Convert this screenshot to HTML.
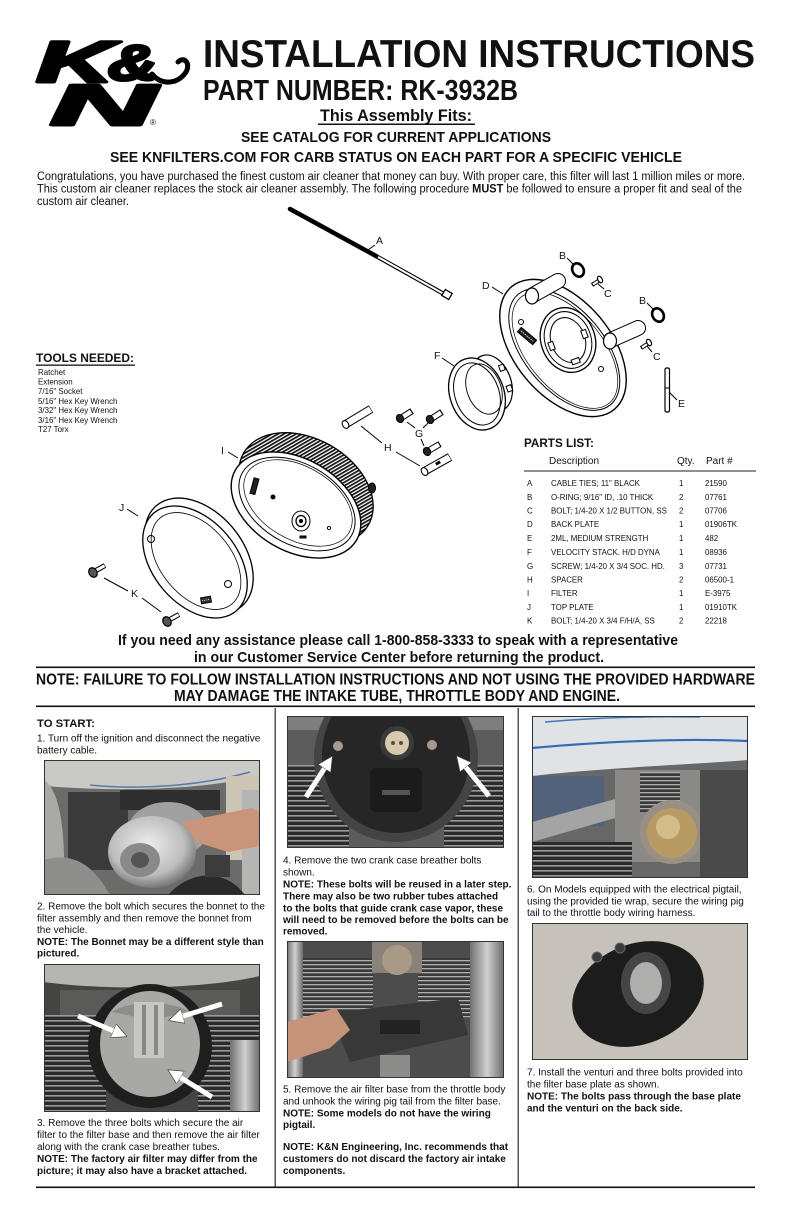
<!DOCTYPE html>
<html><head><meta charset="utf-8">
<style>
html,body{margin:0;padding:0;background:#fff;}
svg{display:block;}
text{font-family:"Liberation Sans",Arial,sans-serif;fill:#111;}
.b{font-weight:bold;}
</style></head><body>
<svg width="792" height="1224" viewBox="0 0 792 1224" xmlns="http://www.w3.org/2000/svg">
<defs>
 <pattern id="pleat" width="3" height="10" patternUnits="userSpaceOnUse" patternTransform="rotate(30)"><rect width="3" height="10" fill="#fff"/><rect width="1.7" height="10" fill="#111"/></pattern>
 <pattern id="fins" width="8" height="5" patternUnits="userSpaceOnUse"><rect width="8" height="5" fill="#2b2b2b"/><rect width="8" height="1.6" fill="#9a9a9a"/></pattern>
 <pattern id="fins2" width="8" height="4" patternUnits="userSpaceOnUse"><rect width="8" height="4" fill="#3a3a3a"/><rect width="8" height="1.3" fill="#b0b0b0"/></pattern>
 <marker id="ah" markerWidth="3" markerHeight="3" refX="0.6" refY="1.5" orient="auto" markerUnits="strokeWidth"><path d="M0,0 L3,1.5 L0,3 Z" fill="#fff" stroke="#444" stroke-width="0.15"/></marker>
 <linearGradient id="chrome" x1="0" y1="0" x2="1" y2="0"><stop offset="0" stop-color="#707070"/><stop offset="0.5" stop-color="#d0d0d0"/><stop offset="1" stop-color="#6a6a6a"/></linearGradient>
 <radialGradient id="cl" cx="0.45" cy="0.4" r="0.6"><stop offset="0" stop-color="#eeeeee"/><stop offset="0.7" stop-color="#bdbdbd"/><stop offset="1" stop-color="#777"/></radialGradient>
 <clipPath id="c1"><rect x="44" y="760" width="216" height="135"/></clipPath>
 <clipPath id="c2"><rect x="44" y="964" width="216" height="148"/></clipPath>
 <clipPath id="c3"><rect x="287" y="716" width="217" height="132"/></clipPath>
 <clipPath id="c4"><rect x="287" y="941" width="217" height="137"/></clipPath>
 <clipPath id="c5"><rect x="532" y="716" width="216" height="162"/></clipPath>
 <clipPath id="c6"><rect x="532" y="923" width="216" height="137"/></clipPath>
</defs>

<!-- LOGO -->
<g stroke="#000" stroke-width="3" stroke-linejoin="round" font-weight="bold" font-style="italic">
 <text x="36" y="82" font-size="58" textLength="78" lengthAdjust="spacingAndGlyphs" style="fill:#000">K</text>
 <text x="108" y="80" font-size="50" textLength="50" lengthAdjust="spacingAndGlyphs" style="fill:#000">&amp;</text>
 <text x="50" y="125" font-size="58" textLength="106" lengthAdjust="spacingAndGlyphs" style="fill:#000">N</text>
</g>
<path d="M152,74 C162,86 178,84 186,72 C191,63 184,56 178,62" fill="none" stroke="#000" stroke-width="5" stroke-linecap="round"/>
<text x="150" y="125" font-size="8">®</text>

<!-- HEADER -->
<text class="b" x="203" y="67" font-size="39" textLength="552" lengthAdjust="spacingAndGlyphs">INSTALLATION INSTRUCTIONS</text>
<text class="b" x="203" y="100" font-size="29" textLength="315" lengthAdjust="spacingAndGlyphs">PART NUMBER: RK-3932B</text>
<text class="b" x="320" y="121" font-size="17" textLength="152" lengthAdjust="spacingAndGlyphs">This Assembly Fits:</text>
<rect x="318" y="123.5" width="157" height="1.5" fill="#111"/>
<text class="b" x="241" y="142" font-size="15" textLength="310" lengthAdjust="spacingAndGlyphs">SEE CATALOG FOR CURRENT APPLICATIONS</text>
<text class="b" x="110" y="162" font-size="15" textLength="572" lengthAdjust="spacingAndGlyphs">SEE KNFILTERS.COM FOR CARB STATUS ON EACH PART FOR A SPECIFIC VEHICLE</text>

<text x="37" y="180" font-size="11.5" textLength="708" lengthAdjust="spacingAndGlyphs">Congratulations, you have purchased the finest custom air cleaner that money can buy. With proper care, this filter will last 1 million miles or more.</text>
<text x="37" y="192.5" font-size="11.5" textLength="705" lengthAdjust="spacingAndGlyphs">This custom air cleaner replaces the stock air cleaner assembly. The following procedure <tspan font-weight="bold">MUST</tspan> be followed to ensure a proper fit and seal of the</text>
<text x="37" y="205" font-size="11.5" textLength="92" lengthAdjust="spacingAndGlyphs">custom air cleaner.</text>

<!-- TOOLS -->
<text class="b" x="36" y="362" font-size="12" textLength="98" lengthAdjust="spacingAndGlyphs">TOOLS NEEDED:</text>
<rect x="36" y="364.5" width="99" height="1.3" fill="#111"/>
<g font-size="7.9">
 <text x="38" y="375">Ratchet</text>
 <text x="38" y="384.5">Extension</text>
 <text x="38" y="394">7/16" Socket</text>
 <text x="38" y="404">5/16" Hex Key Wrench</text>
 <text x="38" y="413">3/32" Hex Key Wrench</text>
 <text x="38" y="423">3/16" Hex Key Wrench</text>
 <text x="38" y="432">T27 Torx</text>
</g>

<!-- DIAGRAM -->
<g stroke="#000" fill="none" stroke-width="1">
 <!-- A cable tie -->
 <line x1="290" y1="209" x2="376" y2="256" stroke-width="4.5" stroke-linecap="round"/>
 <line x1="376" y1="256" x2="444" y2="294" stroke-width="4.2"/>
 <line x1="378" y1="257" x2="443" y2="293.5" stroke="#fff" stroke-width="2"/>
 <rect x="443" y="291" width="8" height="7" transform="rotate(30 447 294.5)" fill="#fff" stroke-width="1.3"/>
 <line x1="368" y1="250" x2="375" y2="245"/>

 <!-- D back plate -->
 <g transform="translate(563,348) rotate(50)">
  <ellipse rx="80" ry="48" fill="#fff" stroke-width="1.4"/>
  <ellipse cx="2" rx="72" ry="40"/>
  <ellipse cx="3" rx="69" ry="37.5" stroke-width="0.7"/>
 </g>
 <g transform="translate(568,340) rotate(-20)">
  <ellipse rx="27" ry="33" stroke-width="1.3" fill="#fff"/>
  <ellipse rx="23" ry="29"/>
  <ellipse rx="17" ry="23" fill="#fff"/>
  <rect x="-20" y="-4" width="5" height="8" fill="#fff"/>
  <rect x="15" y="-4" width="5" height="8" fill="#fff"/>
  <rect x="-4" y="20" width="8" height="5" fill="#fff"/>
 </g>
 <g transform="translate(527,336) rotate(40)">
  <rect x="-10" y="-3" width="20" height="6" fill="#222"/>
  <line x1="-8" y1="0" x2="8" y2="0" stroke="#fff" stroke-width="0.8" stroke-dasharray="1.5 1"/>
 </g>
 <circle cx="521" cy="322" r="2.5"/>
 <circle cx="601" cy="369" r="2.5"/>
 <!-- tube 1 -->
 <line x1="533" y1="295" x2="558" y2="281" stroke-width="16" stroke-linecap="round"/>
 <line x1="533" y1="295" x2="558" y2="281" stroke="#fff" stroke-width="14" stroke-linecap="round"/>
 <ellipse cx="532" cy="296" rx="6.5" ry="8" fill="#fff" stroke-width="1.2"/>
 <!-- tube 2 -->
 <line x1="611" y1="340" x2="638" y2="328" stroke-width="16" stroke-linecap="round"/>
 <line x1="611" y1="340" x2="638" y2="328" stroke="#fff" stroke-width="14" stroke-linecap="round"/>
 <ellipse cx="610" cy="341" rx="6.5" ry="8" fill="#fff" stroke-width="1.2"/>
 <line x1="492" y1="287" x2="503" y2="294"/>

 <!-- B rings -->
 <ellipse cx="578" cy="270" rx="5.5" ry="7" transform="rotate(-30 578 270)" stroke-width="2.6"/>
 <ellipse cx="658" cy="315" rx="5.5" ry="7" transform="rotate(-30 658 315)" stroke-width="2.6"/>
 <line x1="567" y1="258" x2="574" y2="265"/>
 <line x1="647" y1="303" x2="654" y2="310"/>
 <!-- C bolts -->
 <line x1="592" y1="285" x2="600" y2="280" stroke-width="4"/>
 <line x1="593" y1="284.4" x2="599" y2="280.6" stroke="#fff" stroke-width="2.2"/>
 <ellipse cx="600" cy="279.5" rx="2.2" ry="3.5" transform="rotate(-30 600 279.5)" fill="#fff" stroke-width="1.2"/>
 <line x1="641" y1="348" x2="649" y2="343" stroke-width="4"/>
 <line x1="642" y1="347.4" x2="648" y2="343.6" stroke="#fff" stroke-width="2.2"/>
 <ellipse cx="649" cy="342.5" rx="2.2" ry="3.5" transform="rotate(-30 649 342.5)" fill="#fff" stroke-width="1.2"/>
 <line x1="598" y1="284" x2="604" y2="289"/>
 <line x1="647" y1="346" x2="652" y2="352"/>

 <!-- E pin -->
 <rect x="665" y="368" width="4.5" height="44" rx="1.5" fill="#fff" stroke-width="1.2"/>
 <line x1="665" y1="388" x2="669.5" y2="388"/>
 <line x1="669" y1="392" x2="677" y2="400"/>

 <!-- F velocity stack -->
 <g transform="translate(492,383) rotate(-20)">
  <ellipse rx="19" ry="29" fill="#fff" stroke-width="1.2"/>
  <rect x="12" y="-14" width="5" height="6" fill="#fff"/>
  <rect x="12" y="8" width="5" height="6" fill="#fff"/>
 </g>
 <g transform="translate(477,394) rotate(-20)">
  <ellipse rx="27" ry="37" fill="#fff" stroke-width="1.3"/>
  <ellipse rx="22" ry="32"/>
 </g>
 <ellipse cx="484" cy="389" rx="17" ry="26" transform="rotate(-20 484 389)" stroke-width="0.9"/>
 <line x1="442" y1="358" x2="454" y2="366"/>

 <!-- G screws -->
 <line x1="401" y1="418" x2="412" y2="411" stroke-width="6.5"/>
 <line x1="402" y1="417.4" x2="411" y2="411.6" stroke="#fff" stroke-width="4.5"/>
 <ellipse cx="400" cy="418.5" rx="3.5" ry="4.2" transform="rotate(-30 400 418.5)" fill="#222"/>
 <line x1="431" y1="419" x2="442" y2="412" stroke-width="6.5"/>
 <line x1="432" y1="418.4" x2="441" y2="412.6" stroke="#fff" stroke-width="4.5"/>
 <ellipse cx="430" cy="419.5" rx="3.5" ry="4.2" transform="rotate(-30 430 419.5)" fill="#222"/>
 <line x1="428" y1="451" x2="440" y2="444" stroke-width="6.5"/>
 <line x1="429" y1="450.4" x2="439" y2="444.6" stroke="#fff" stroke-width="4.5"/>
 <ellipse cx="427" cy="451.5" rx="3.5" ry="4.2" transform="rotate(-30 427 451.5)" fill="#222"/>
 <line x1="415" y1="428" x2="407" y2="422"/>
 <line x1="423" y1="428" x2="428" y2="423"/>
 <line x1="421" y1="439" x2="424" y2="446"/>

 <!-- H spacers -->
 <line x1="346" y1="424" x2="371" y2="409" stroke-width="8.5"/>
 <line x1="347" y1="423.4" x2="370.5" y2="409.3" stroke="#fff" stroke-width="6.5"/>
 <ellipse cx="345.5" cy="424.5" rx="3" ry="4.2" transform="rotate(-30 345.5 424.5)" fill="#fff" stroke-width="1.1"/>
 <line x1="425" y1="471" x2="450" y2="457" stroke-width="8.5"/>
 <line x1="426" y1="470.4" x2="449.5" y2="457.3" stroke="#fff" stroke-width="6.5"/>
 <ellipse cx="424.5" cy="471.5" rx="3" ry="4.2" transform="rotate(-30 424.5 471.5)" fill="#fff" stroke-width="1.1"/>
 <rect x="436" y="462" width="4" height="2" fill="#000" transform="rotate(-30 438 463)"/>
 <line x1="361" y1="426" x2="382" y2="443"/>
 <line x1="396" y1="452" x2="420" y2="466"/>

 <!-- I filter -->
 <ellipse cx="306" cy="489" rx="72" ry="50" transform="rotate(30 306 489)" fill="url(#pleat)" stroke-width="1.3"/>
 <ellipse cx="372" cy="488" rx="3.5" ry="5" fill="#222"/>
 <ellipse cx="296" cy="505" rx="70" ry="46" transform="rotate(30 296 505)" fill="#fff" stroke-width="1.4"/>
 <ellipse cx="297" cy="504" rx="63" ry="40" transform="rotate(30 297 504)" stroke-width="1"/>
 <ellipse cx="298" cy="503" rx="59" ry="36.5" transform="rotate(30 298 503)" stroke-width="0.7"/>
 <ellipse cx="301" cy="521" rx="9" ry="10"/>
 <ellipse cx="301" cy="521" rx="5" ry="5.5" stroke-width="1.3"/>
 <circle cx="301" cy="521" r="1.6" fill="#000"/>
 <circle cx="273" cy="497" r="2" fill="#000"/>
 <circle cx="329" cy="528" r="1.6"/>
 <rect x="252" y="478" width="5" height="16" fill="#222" transform="rotate(15 254 486)"/>
 <rect x="300" y="536" width="6" height="2" fill="#222"/>
 <line x1="228" y1="452" x2="238" y2="458"/>

 <!-- J top plate -->
 <ellipse cx="199" cy="556" rx="66" ry="44" transform="rotate(50 199 556)" fill="#fff" stroke-width="1.3"/>
 <ellipse cx="195" cy="562" rx="64" ry="42" transform="rotate(50 195 562)" fill="#fff" stroke-width="1.3"/>
 <ellipse cx="196" cy="561" rx="56" ry="35" transform="rotate(50 196 561)" stroke-width="0.8"/>
 <circle cx="151" cy="539" r="3.5"/>
 <circle cx="228" cy="584" r="3.5"/>
 <g transform="translate(206,600) rotate(-10)"><rect x="-5" y="-3" width="10" height="6" fill="#333"/><line x1="-4" y1="0" x2="4" y2="0" stroke="#fff" stroke-width="0.7" stroke-dasharray="1 1"/></g>
 <line x1="127" y1="509" x2="138" y2="516"/>

 <!-- K bolts -->
 <line x1="95" y1="571" x2="105" y2="565.5" stroke-width="5"/>
 <line x1="96" y1="570.4" x2="104.5" y2="565.8" stroke="#fff" stroke-width="3"/>
 <ellipse cx="93" cy="572.5" rx="4" ry="5" transform="rotate(-30 93 572.5)" fill="#555" stroke-width="1.2"/>
 <line x1="169" y1="620" x2="179" y2="614.5" stroke-width="5"/>
 <line x1="170" y1="619.4" x2="178.5" y2="614.8" stroke="#fff" stroke-width="3"/>
 <ellipse cx="167" cy="621.5" rx="4" ry="5" transform="rotate(-30 167 621.5)" fill="#555" stroke-width="1.2"/>
 <line x1="104" y1="578" x2="128" y2="591"/>
 <line x1="142" y1="598" x2="161" y2="612"/>
</g>
<g font-size="10.5" style="fill:#222">
 <text x="376" y="244">A</text>
 <text x="559" y="259">B</text>
 <text x="639" y="304">B</text>
 <text x="604" y="297">C</text>
 <text x="653" y="360">C</text>
 <text x="482" y="289">D</text>
 <text x="678" y="407">E</text>
 <text x="434" y="359">F</text>
 <text x="415" y="437">G</text>
 <text x="384" y="451">H</text>
 <text x="221" y="454">I</text>
 <text x="119" y="511">J</text>
 <text x="131" y="597">K</text>
</g>

<!-- PARTS LIST -->
<text class="b" x="524" y="447" font-size="11.7">PARTS LIST:</text>
<g font-size="10">
 <text x="549" y="464">Description</text>
 <text x="677" y="464">Qty.</text>
 <text x="706" y="464">Part #</text>
</g>
<rect x="524" y="470.5" width="232" height="1" fill="#222"/>
<g font-size="7.9">
 <text x="527" y="486">A</text><text x="551" y="486">CABLE TIES; 11" BLACK</text><text x="679" y="486">1</text><text x="705" y="486">21590</text>
 <text x="527" y="500">B</text><text x="551" y="500">O-RING; 9/16" ID, .10 THICK</text><text x="679" y="500">2</text><text x="705" y="500">07761</text>
 <text x="527" y="513.5">C</text><text x="551" y="513.5">BOLT; 1/4-20 X 1/2 BUTTON, SS</text><text x="679" y="513.5">2</text><text x="705" y="513.5">07706</text>
 <text x="527" y="527">D</text><text x="551" y="527">BACK PLATE</text><text x="679" y="527">1</text><text x="705" y="527">01906TK</text>
 <text x="527" y="541">E</text><text x="551" y="541">2ML, MEDIUM STRENGTH</text><text x="679" y="541">1</text><text x="705" y="541">482</text>
 <text x="527" y="555">F</text><text x="551" y="555">VELOCITY STACK. H/D DYNA</text><text x="679" y="555">1</text><text x="705" y="555">08936</text>
 <text x="527" y="569">G</text><text x="551" y="569">SCREW; 1/4-20 X 3/4 SOC. HD.</text><text x="679" y="569">3</text><text x="705" y="569">07731</text>
 <text x="527" y="582.5">H</text><text x="551" y="582.5">SPACER</text><text x="679" y="582.5">2</text><text x="705" y="582.5">06500-1</text>
 <text x="527" y="596">I</text><text x="551" y="596">FILTER</text><text x="679" y="596">1</text><text x="705" y="596">E-3975</text>
 <text x="527" y="610">J</text><text x="551" y="610">TOP PLATE</text><text x="679" y="610">1</text><text x="705" y="610">01910TK</text>
 <text x="527" y="623.5">K</text><text x="551" y="623.5">BOLT; 1/4-20 X 3/4 F/H/A, SS</text><text x="679" y="623.5">2</text><text x="705" y="623.5">22218</text>
</g>

<!-- ASSISTANCE / NOTE -->
<text class="b" x="118" y="645" font-size="15" textLength="560" lengthAdjust="spacingAndGlyphs">If you need any assistance please call 1-800-858-3333 to speak with a representative</text>
<text class="b" x="194" y="662" font-size="15" textLength="410" lengthAdjust="spacingAndGlyphs">in our Customer Service Center before returning the product.</text>
<rect x="36" y="666.5" width="719" height="1.6" fill="#111"/>
<text class="b" x="36" y="684.5" font-size="15.5" textLength="719" lengthAdjust="spacingAndGlyphs">NOTE: FAILURE TO FOLLOW INSTALLATION INSTRUCTIONS AND NOT USING THE PROVIDED HARDWARE</text>
<text class="b" x="174" y="701" font-size="15.5" textLength="446" lengthAdjust="spacingAndGlyphs">MAY DAMAGE THE INTAKE TUBE, THROTTLE BODY AND ENGINE.</text>
<rect x="36" y="705.5" width="719" height="1.6" fill="#111"/>

<!-- column dividers & bottom rule -->
<rect x="274.5" y="708" width="1.5" height="479" fill="#555"/>
<rect x="517.5" y="708" width="1.5" height="479" fill="#555"/>
<rect x="36" y="1186.5" width="719" height="1.6" fill="#111"/>

<!-- COLUMN 1 -->
<text class="b" x="37" y="727" font-size="11.3">TO START:</text>
<g font-size="10">
 <text x="37" y="741.5">1. Turn off the ignition and disconnect the negative</text>
 <text x="37" y="753.5">battery cable.</text>
 <text x="37" y="909.5">2. Remove the bolt which secures the bonnet to the</text>
 <text x="37" y="921.5">filter assembly and then remove the bonnet from</text>
 <text x="37" y="933">the vehicle.</text>
 <text class="b" x="37" y="945">NOTE: The Bonnet may be a different style than</text>
 <text class="b" x="37" y="956.5">pictured.</text>
 <text x="37" y="1126">3. Remove the three bolts which secure the air</text>
 <text x="37" y="1138">filter to the filter base and then remove the air filter</text>
 <text x="37" y="1150">along with the crank case breather tubes.</text>
 <text class="b" x="37" y="1162">NOTE: The factory air filter may differ from the</text>
 <text class="b" x="37" y="1174">picture; it may also have a bracket attached.</text>
</g>

<!-- COLUMN 2 -->
<g font-size="10">
 <text x="283" y="863.5">4. Remove the two crank case breather bolts</text>
 <text x="283" y="875.5">shown.</text>
 <text class="b" x="283" y="887.5">NOTE: These bolts will be reused in a later step.</text>
 <text class="b" x="283" y="899.5">There may also be two rubber tubes attached</text>
 <text class="b" x="283" y="911.5">to the bolts that guide crank case vapor, these</text>
 <text class="b" x="283" y="923">will need to be removed before the bolts can be</text>
 <text class="b" x="283" y="934.5">removed.</text>
 <text x="283" y="1092.5">5. Remove the air filter base from the throttle body</text>
 <text x="283" y="1104.5">and unhook the wiring pig tail from the filter base.</text>
 <text class="b" x="283" y="1116.5">NOTE: Some models do not have the wiring</text>
 <text class="b" x="283" y="1128">pigtail.</text>
 <text class="b" x="283" y="1150">NOTE: K&amp;N Engineering, Inc. recommends that</text>
 <text class="b" x="283" y="1162">customers do not discard the factory air intake</text>
 <text class="b" x="283" y="1174">components.</text>
</g>

<!-- COLUMN 3 -->
<g font-size="10">
 <text x="527" y="892.5">6. On Models equipped with the electrical pigtail,</text>
 <text x="527" y="904.5">using the provided tie wrap, secure the wiring pig</text>
 <text x="527" y="916">tail to the throttle body wiring harness.</text>
 <text x="527" y="1075.5">7. Install the venturi and three bolts provided into</text>
 <text x="527" y="1087.5">the filter base plate as shown.</text>
 <text class="b" x="527" y="1099.5">NOTE: The bolts pass through the base plate</text>
 <text class="b" x="527" y="1111.5">and the venturi on the back side.</text>
</g>

<!-- PHOTO 1 -->
<g clip-path="url(#c1)">
 <rect x="44" y="760" width="216" height="135" fill="#6b6b69"/>
 <path d="M44,760 H260 V776 C200,790 120,792 44,786 Z" fill="#c9c9c5"/>
 <path d="M90,785 C140,790 200,786 250,772" stroke="#5a7aa8" stroke-width="1.5" fill="none"/>
 <path d="M44,780 C58,790 66,820 64,895 H44 Z" fill="#a9a9a7"/>
 <rect x="226" y="776" width="34" height="84" fill="#cdc5b4"/>
 <rect x="242" y="790" width="18" height="105" fill="#b5b5b3"/>
 <rect x="68" y="792" width="60" height="78" fill="#3b3b3b"/>
 <rect x="120" y="790" width="100" height="20" fill="#2e2e2e"/>
 <ellipse cx="168" cy="830" rx="40" ry="28" fill="#a0a0a0"/>
 <ellipse cx="152" cy="852" rx="44" ry="36" fill="url(#cl)"/>
 <ellipse cx="140" cy="860" rx="20" ry="17" fill="#8a8a8a"/>
 <ellipse cx="140" cy="860" rx="9" ry="8" fill="#555"/>
 <path d="M182,822 L252,808 L260,812 L260,846 L228,852 L196,842 Z" fill="#c8957a"/>
 <path d="M168,895 C190,870 225,868 245,895 Z" fill="#2a2a2a"/>
 <path d="M44,860 C70,852 92,862 110,895 H44 Z" fill="#8e8e8c"/>
 <rect x="205" y="855" width="25" height="22" fill="#3c3c3c"/>
</g>
<rect x="44.5" y="760.5" width="215" height="134" fill="none" stroke="#333" stroke-width="1"/>

<!-- PHOTO 2 (col1) -->
<g clip-path="url(#c2)">
 <rect x="44" y="964" width="216" height="148" fill="#444442"/>
 <path d="M44,964 H260 V976 C200,990 100,990 44,982 Z" fill="#b5b5b1"/>
 <rect x="44" y="1015" width="62" height="97" fill="url(#fins)"/>
 <rect x="198" y="1015" width="62" height="97" fill="url(#fins)"/>
 <rect x="60" y="990" width="180" height="25" fill="#5a5a58"/>
 <ellipse cx="150" cy="1046" rx="62" ry="62" fill="#1e1e1e"/>
 <ellipse cx="150" cy="1044" rx="50" ry="53" fill="#a8a8a4"/>
 <path d="M112,1012 C130,1000 170,1000 190,1012 L150,1020 Z" fill="#8d8d89"/>
 <rect x="134" y="1002" width="30" height="56" fill="#c6c6c2"/>
 <rect x="142" y="1005" width="4" height="50" fill="#888"/>
 <rect x="154" y="1005" width="4" height="50" fill="#888"/>
 <rect x="230" y="1040" width="30" height="72" fill="url(#chrome)"/>
 <line x1="78" y1="1016" x2="116" y2="1032" stroke="#fff" stroke-width="5" marker-end="url(#ah)"/>
 <line x1="222" y1="1004" x2="180" y2="1017" stroke="#fff" stroke-width="5" marker-end="url(#ah)"/>
 <line x1="212" y1="1097" x2="178" y2="1076" stroke="#fff" stroke-width="5" marker-end="url(#ah)"/>
</g>
<rect x="44.5" y="964.5" width="215" height="147" fill="none" stroke="#333" stroke-width="1"/>

<!-- PHOTO 3 (col2 top) -->
<g clip-path="url(#c3)">
 <rect x="287" y="716" width="217" height="132" fill="#5c5c5c"/>
 <rect x="287" y="716" width="217" height="14" fill="#7e7e7e"/>
 <rect x="287" y="765" width="62" height="83" fill="url(#fins)"/>
 <rect x="444" y="765" width="60" height="83" fill="url(#fins)"/>
 <ellipse cx="396" cy="758" rx="82" ry="84" fill="#444"/>
 <ellipse cx="396" cy="755" rx="74" ry="78" fill="#262626"/>
 <rect x="370" y="768" width="52" height="44" rx="6" fill="#1b1b1b"/>
 <rect x="382" y="790" width="28" height="5" fill="#555"/>
 <circle cx="397" cy="743" r="17" fill="#3a3a3a"/>
 <circle cx="397" cy="743" r="12" fill="#d9c9ae"/>
 <circle cx="393" cy="743" r="2" fill="#553"/>
 <circle cx="401" cy="743" r="2" fill="#553"/>
 <circle cx="338" cy="746" r="5" fill="#a89890"/>
 <circle cx="432" cy="745" r="5" fill="#a89890"/>
 <line x1="306" y1="797" x2="326" y2="766" stroke="#fff" stroke-width="5" marker-end="url(#ah)"/>
 <line x1="489" y1="796" x2="464" y2="765" stroke="#fff" stroke-width="5" marker-end="url(#ah)"/>
</g>
<rect x="287.5" y="716.5" width="216" height="131" fill="none" stroke="#333" stroke-width="1"/>

<!-- PHOTO 4 (col2 mid) -->
<g clip-path="url(#c4)">
 <rect x="287" y="941" width="217" height="137" fill="#4c4c4c"/>
 <rect x="295" y="958" width="78" height="60" fill="url(#fins2)"/>
 <rect x="418" y="958" width="52" height="60" fill="url(#fins2)"/>
 <rect x="372" y="941" width="50" height="32" fill="#8a8278"/>
 <circle cx="397" cy="960" r="15" fill="#a89a86"/>
 <rect x="470" y="941" width="34" height="137" fill="url(#chrome)"/>
 <rect x="287" y="941" width="16" height="137" fill="url(#chrome)"/>
 <path d="M330,1013 L458,998 L468,1035 L350,1062 Z" fill="#383838"/>
 <rect x="380" y="1020" width="40" height="14" fill="#222"/>
 <path d="M287,1022 L336,1008 L350,1030 L330,1048 L287,1062 Z" fill="#c59478"/>
 <rect x="380" y="1055" width="30" height="23" fill="#8c8c8a"/>
</g>
<rect x="287.5" y="941.5" width="216" height="136" fill="none" stroke="#333" stroke-width="1"/>

<!-- PHOTO 5 (col3 top) -->
<g clip-path="url(#c5)">
 <rect x="532" y="716" width="216" height="162" fill="#676767"/>
 <path d="M532,716 H748 V760 C700,764 600,768 532,776 Z" fill="#dfe3e6"/>
 <path d="M532,748 C600,742 680,738 748,741" stroke="#2f6fb0" stroke-width="2.2" fill="none"/>
 <path d="M545,722 C590,718 640,716 700,717" stroke="#3a78b8" stroke-width="1.6" fill="none"/>
 <rect x="532" y="776" width="72" height="50" fill="#52627a"/>
 <path d="M532,822 L648,790 L650,808 L532,842 Z" fill="#a4a4a4"/>
 <rect x="615" y="770" width="88" height="92" fill="#8c8a86"/>
 <rect x="640" y="772" width="40" height="40" fill="url(#fins2)"/>
 <circle cx="672" cy="832" r="32" fill="#9a8f85"/>
 <circle cx="672" cy="833" r="25" fill="#b89b62"/>
 <circle cx="668" cy="827" r="12" fill="#d2bc88"/>
 <rect x="532" y="842" width="100" height="36" fill="url(#fins)"/>
 <rect x="700" y="770" width="48" height="108" fill="#4a4a4a"/>
</g>
<rect x="532.5" y="716.5" width="215" height="161" fill="none" stroke="#333" stroke-width="1"/>

<!-- PHOTO 6 (col3 second) -->
<g clip-path="url(#c6)">
 <rect x="532" y="923" width="216" height="137" fill="#c6c2ba"/>
 <ellipse cx="638" cy="994" rx="68" ry="50" transform="rotate(-22 638 994)" fill="#1c1c1c"/>
 <ellipse cx="646" cy="983" rx="25" ry="31" fill="#454545"/>
 <ellipse cx="646" cy="983" rx="16" ry="21" fill="#aeaeac"/>
 <circle cx="597" cy="957" r="5" fill="#3a3a3a" stroke="#666"/>
 <circle cx="620" cy="948" r="5" fill="#3a3a3a" stroke="#666"/>
</g>
<rect x="532.5" y="923.5" width="215" height="136" fill="none" stroke="#333" stroke-width="1"/>
</svg>
</body></html>
